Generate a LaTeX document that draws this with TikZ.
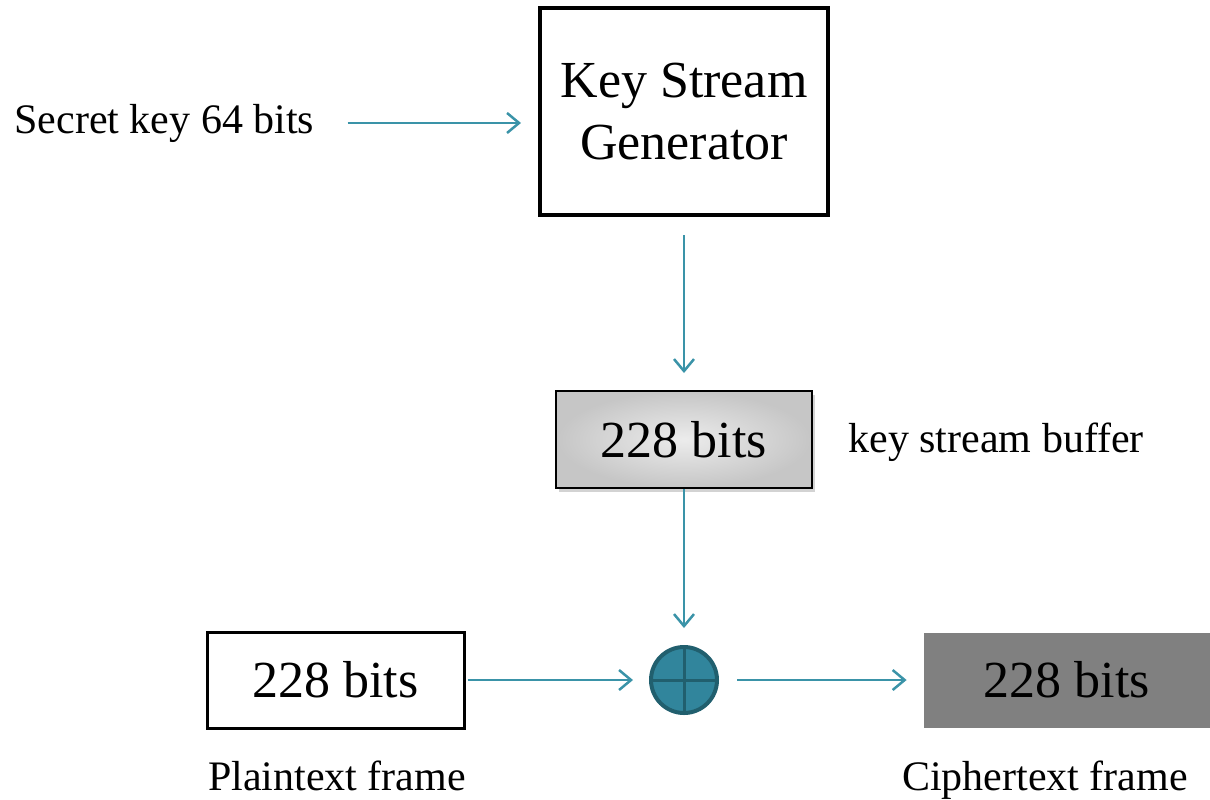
\documentclass[tikz,border=0pt]{standalone}
\usepackage{fontspec}
\setmainfont{Liberation Serif}
\usepackage{tikz}
\usetikzlibrary{positioning,arrows.meta,shadows}
\definecolor{teal1}{HTML}{3A93A8}
\definecolor{xorfill}{HTML}{31859C}
\definecolor{xordraw}{HTML}{215F6E}

\begin{document}
\begin{tikzpicture}[x=0.5pt,y=-0.5pt,
    big/.style={font=\fontsize{26}{31}\selectfont},
    small/.style={font=\fontsize{21}{25}\selectfont,inner sep=0pt},
    flow/.style={draw=teal1,line width=1.25pt,-{Straight Barb[length=6pt,width=10pt,line width=1.25pt]}}]
      \useasboundingbox (0,0) rectangle (1210,799);
      \node[big,draw,line width=2pt,minimum width=144pt,minimum height=103.5pt,align=center](ksg) at (684,111.5){Key Stream\\Generator};
      \node[small,anchor=base west](secret) at (14,133){Secret key 64 bits};
      \node[big,draw,line width=1pt,minimum width=128pt,minimum height=48.5pt,inner color=gray!15,outer color=gray!45,drop shadow={shadow xshift=1.5pt,shadow yshift=-2pt,opacity=0.35}](buf) at (684,439.5){228 bits};
      \node[small,anchor=base west](buflabel) at (848,452){key stream buffer};
      \node[circle,fill=xorfill,draw=xordraw,line width=2pt,minimum size=33pt,inner sep=0pt](xor) at (684,680){};
      \draw[xordraw,line width=1.5pt] (xor.north) -- (xor.south) (xor.west) -- (xor.east);
      \node[big,draw,line width=1.5pt,minimum width=128.5pt,minimum height=48pt](plain) at (335.5,680){228 bits};
      \node[small,anchor=base](plainlabel) at (337,790){Plaintext frame};
      \node[big,fill=black!50,minimum width=143pt,minimum height=47.5pt](cipher) at (1067,680){228 bits};
      \node[small,anchor=base](cipherlabel) at (1045,790){Ciphertext frame};
      % arrows
      \draw[flow,shorten <=16.5pt,shorten >=8.5pt] (secret.east) -- (secret.east -| ksg.west);
      \draw[flow,shorten <=9pt,shorten >=8.5pt] (ksg) -- (buf);
      \draw[flow,shorten >=8.5pt] (buf) -- (xor);
      \draw[flow,shorten <=1pt,shorten >=8pt] (plain) -- (xor);
      \draw[flow,shorten <=9pt,shorten >=8.5pt] (xor) -- (cipher);
    \end{tikzpicture}
\end{document}
